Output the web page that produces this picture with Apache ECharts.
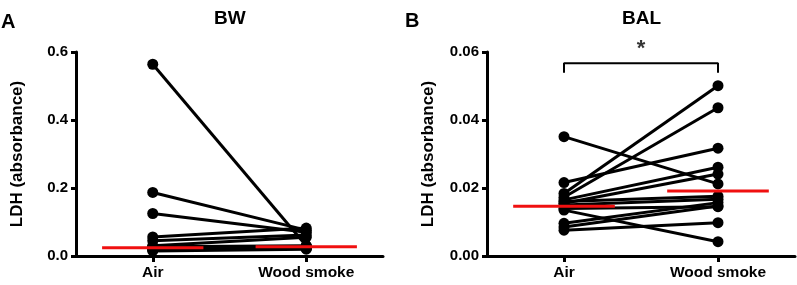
<!DOCTYPE html>
<html>
<head>
<meta charset="utf-8">
<script src="https://cdn.jsdelivr.net/npm/echarts@6/dist/echarts.min.js"></script>
<style>
    html, body { margin: 0; padding: 0; background: #fff; }
    #chart { width: 797px; height: 285px; }
</style>
</head>
<body>
<div id="chart"></div>
<script>
    // categories
    const groups = ["Air", "Wood smoke"];

    // BW, one value per animal (paired)
    const bwAir  = [0.564, 0.187, 0.125, 0.056, 0.045, 0.030, 0.027, 0.025, 0.024, 0.022, 0.020, 0.018, 0.015];
    const bwWood = [0.030, 0.076, 0.070, 0.082, 0.062, 0.055, 0.030, 0.028, 0.027, 0.025, 0.024, 0.022, 0.020];
    const bwMedian = [0.024, 0.027];

    // BAL
    const balAir  = [0.0351, 0.0216, 0.0184, 0.0173, 0.0165, 0.0155, 0.0135, 0.0160, 0.0150, 0.0096, 0.0085, 0.0076, 0.0140];
    const balWood = [0.0212, 0.0317, 0.0501, 0.0436, 0.0261, 0.0241, 0.0042, 0.0176, 0.0167, 0.0157, 0.0147, 0.0098, 0.0145];
    const balMedian = [0.0146, 0.0191];

    // y ticks
    const bwTicks = { min: 0, max: 0.6, interval: 0.2, digits: 1 };
    const balTicks = { min: 0, max: 0.06, interval: 0.02, digits: 2 };

    // significance bracket (BAL)
    const bracketY = 0.0567;
    const bracketFoot = 0.0539;
    const sigLabel = "*";

    const font = "'Liberation Sans', Arial, sans-serif";
    const halfWidth = 0.33; // median bar half width in category units

    function pairSeries(air, wood, xi, yi) {
        return air.map((a, i) => ({
            type: "line",
            xAxisIndex: xi,
            yAxisIndex: yi,
            data: [a, wood[i]],
            symbol: "circle",
            symbolSize: 11,
            itemStyle: { color: "#000" },
            lineStyle: { color: "#000", width: 3 },
            silent: true,
            z: 2
        }));
    }

    function medianSeries(med, xi, yi) {
        return med.map((m, i) => ({
            type: "line",
            xAxisIndex: xi,
            yAxisIndex: yi,
            data: [[i + 0.5 - halfWidth, m], [i + 0.5 + halfWidth, m]],
            symbol: "none",
            lineStyle: { color: "#f01010", width: 3 },
            silent: true,
            z: 5
        }));
    }

    function yAxis(gi, t) {
        return {
            type: "value",
            gridIndex: gi,
            min: t.min,
            max: t.max,
            interval: t.interval,
            name: "LDH (absorbance)",
            nameLocation: "middle",
            nameRotate: 90,
            nameGap: 50,
            nameTextStyle: { fontFamily: font, fontWeight: "bold", fontSize: 17, color: "#000" },
            axisLine: { show: true, lineStyle: { color: "#000", width: 3 } },
            axisTick: { show: true, length: 5, lineStyle: { color: "#000", width: 3 } },
            axisLabel: {
                margin: 8,
                fontFamily: font, fontWeight: "bold", fontSize: 15, color: "#000",
                formatter: v => v.toFixed(t.digits)
            },
            splitLine: { show: false }
        };
    }

    function catAxis(gi) {
        return {
            type: "category",
            gridIndex: gi,
            data: groups,
            axisLine: { show: true, lineStyle: { color: "#000", width: 3 } },
            axisTick: { show: true, alignWithLabel: true, length: 6, lineStyle: { color: "#000", width: 3 } },
            axisLabel: { margin: 9, fontFamily: font, fontWeight: "bold", fontSize: 15.5, color: "#000" }
        };
    }

    function hiddenAxis(gi) {
        return { type: "value", gridIndex: gi, min: 0, max: 2, show: false };
    }

    const chart = echarts.init(document.getElementById("chart"));

    const titleStyle = size => ({ fontFamily: font, fontWeight: "bold", fontSize: size, color: "#000" });

    const option = {
        animation: false,
        backgroundColor: "#fff",
        title: [
            { text: "A", left: 1, top: 12, padding: 0, textStyle: titleStyle(20) },
            { text: "BW", left: 214, top: 9, padding: 0, textStyle: titleStyle(19) },
            { text: "B", left: 405, top: 11, padding: 0, textStyle: titleStyle(20) },
            { text: "BAL", left: 622, top: 9, padding: 0, textStyle: titleStyle(19) }
        ],
        grid: [
            { left: 76, right: 414, top: 52, bottom: 29 },
            { left: 487, right: 2, top: 52, bottom: 29 }
        ],
        xAxis: [catAxis(0), hiddenAxis(0), catAxis(1), hiddenAxis(1)],
        yAxis: [yAxis(0, bwTicks), yAxis(1, balTicks)],
        series: [
            ...pairSeries(bwAir, bwWood, 0, 0),
            ...medianSeries(bwMedian, 1, 0),
            ...pairSeries(balAir, balWood, 2, 1),
            ...medianSeries(balMedian, 3, 1),
            {
                type: "line",
                xAxisIndex: 3,
                yAxisIndex: 1,
                data: [[0.5, bracketFoot], [0.5, bracketY], [1.5, bracketY], [1.5, bracketFoot]],
                symbol: "none",
                lineStyle: { color: "#000", width: 2 },
                silent: true
            },
            {
                type: "scatter",
                xAxisIndex: 3,
                yAxisIndex: 1,
                data: [[1, bracketY]],
                symbolSize: 0,
                label: {
                    show: true,
                    position: "top",
                    distance: 3,
                    formatter: sigLabel,
                    fontFamily: font, fontWeight: "bold", fontSize: 22, color: "#000"
                },
                silent: true
            }
        ]
    };

    chart.setOption(option);
</script>
</body>
</html>
